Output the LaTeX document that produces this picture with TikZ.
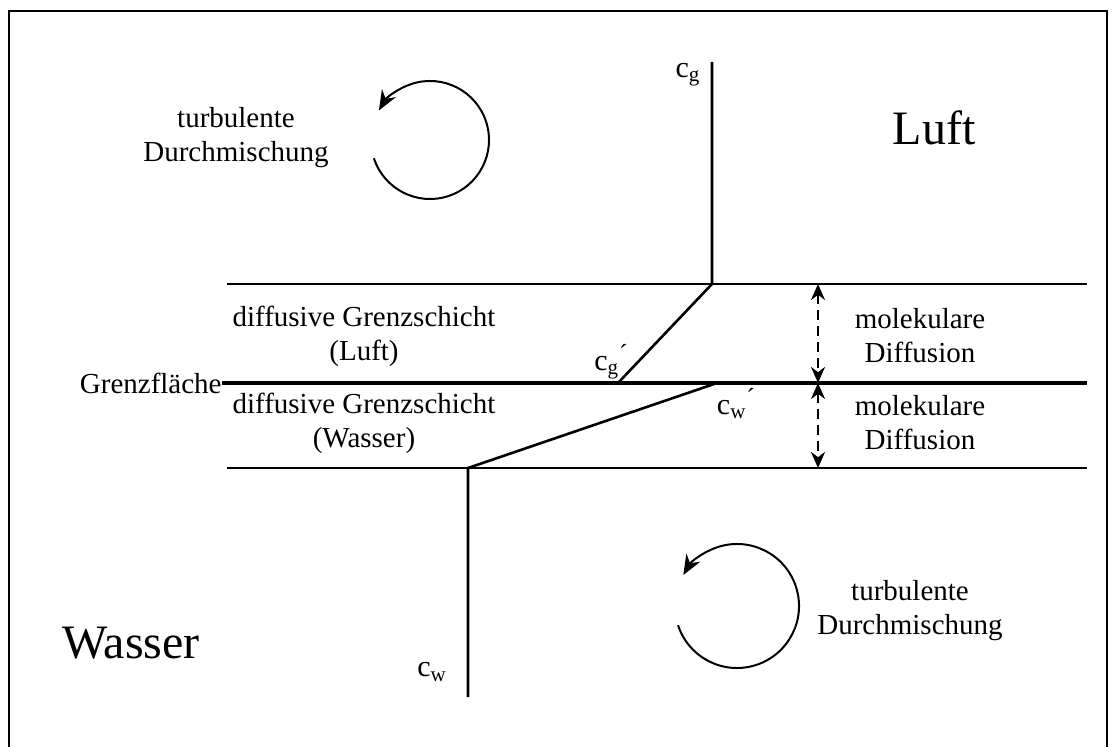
\documentclass[tikz,border=0pt]{standalone}
\usepackage{fontspec}
\setmainfont{Liberation Serif}
\usetikzlibrary{arrows.meta}
\tikzset{
  frame-line/.style={line width=1.3pt},
  layer-line/.style={line width=0.9pt},
  surface-line/.style={line width=2pt},
  profile-line/.style={line width=1.3pt},
  diff-arrow/.style={{Stealth[length=8pt,width=7pt]}-{Stealth[length=8pt,width=7pt]},
    line width=1.2pt, dash pattern=on 5pt off 3pt},
  mix-arrow/.style={-{Stealth[length=10pt,width=8pt]}, line width=1pt},
  label-text/.style={font=\fontsize{14.5}{17}\selectfont, align=center, inner sep=0pt},
  conc-text/.style={font=\fontsize{15}{17}\selectfont, inner sep=0pt},
  medium-text/.style={font=\fontsize{24}{28}\selectfont, inner sep=0pt}
}
\newcommand{\concprime}{\raisebox{0.55ex}{\fontsize{13}{13}\selectfont ´}}
\begin{document}
\begin{tikzpicture}[x=0.5pt, y=-0.5pt]
\useasboundingbox (0,0) rectangle (1112,747);
\draw[frame-line] (9,747) -- (9,11) -- (1107,11) -- (1107,747);

% layer boundaries
\coordinate (top-l) at (227,284);
\coordinate (top-r) at (1087,284);
\coordinate (bot-l) at (227,468);
\coordinate (bot-r) at (1087,468);
\coordinate (surf-r) at (1087,383);
\node[label-text, anchor=east] (surface) at (222,383) {Grenzfläche};
\draw[layer-line] (top-l) -- (top-r);
\draw[surface-line] (surface.east) -- (surf-r);
\draw[layer-line] (bot-l) -- (bot-r);

% concentration profiles
\coordinate (cg-top) at (712,62);
\coordinate (cg-bend) at (712,284);
\coordinate (cg-surf) at (618,383);
\coordinate (cw-surf) at (717,383);
\coordinate (cw-bend) at (468,468);
\coordinate (cw-bot) at (468,697);
\draw[profile-line] (cg-top) -- (cg-bend) -- (cg-surf);
\draw[profile-line] (cw-surf) -- (cw-bend) -- (cw-bot);
\node[conc-text] (cg) at (688,75) {c\textsubscript{g}};
\node[conc-text] (cg-prime) at (611,362) {c\textsubscript{g}\concprime};
\node[conc-text] (cw-prime) at (736,404) {c\textsubscript{w}\concprime};
\node[conc-text] (cw) at (432,672) {c\textsubscript{w}};

% molecular diffusion
\coordinate (da-top) at (818,284);
\coordinate (da-mid) at (818,383);
\coordinate (da-bot) at (818,468);
\draw[diff-arrow] (da-top) -- (da-mid);
\draw[diff-arrow] (da-mid) -- (da-bot);

% turbulent eddies
\coordinate (eddy-air) at (430,140);
\coordinate (eddy-water) at (737,606);
\draw[mix-arrow] (eddy-air) ++(198:29.5pt) arc[start angle=198, end angle=510, radius=29.5pt];
\draw[mix-arrow] (eddy-water) ++(198:31pt) arc[start angle=198, end angle=510, radius=31pt];

% labels
\node[label-text] (mix-air) at (236,138) {turbulente\\Durchmischung};
\node[label-text] (mix-water) at (910,611) {turbulente\\Durchmischung};
\node[label-text] (layer-air) at (364,336) {diffusive Grenzschicht\\(Luft)};
\node[label-text] (layer-water) at (364,423) {diffusive Grenzschicht\\(Wasser)};
\node[label-text] (diff-air) at (920,336) {molekulare\\Diffusion};
\node[label-text] (diff-water) at (920,423) {molekulare\\Diffusion};
\node[medium-text] (air) at (934,128) {Luft};
\node[medium-text] (water) at (131,643) {Wasser};
\end{tikzpicture}
\end{document}
